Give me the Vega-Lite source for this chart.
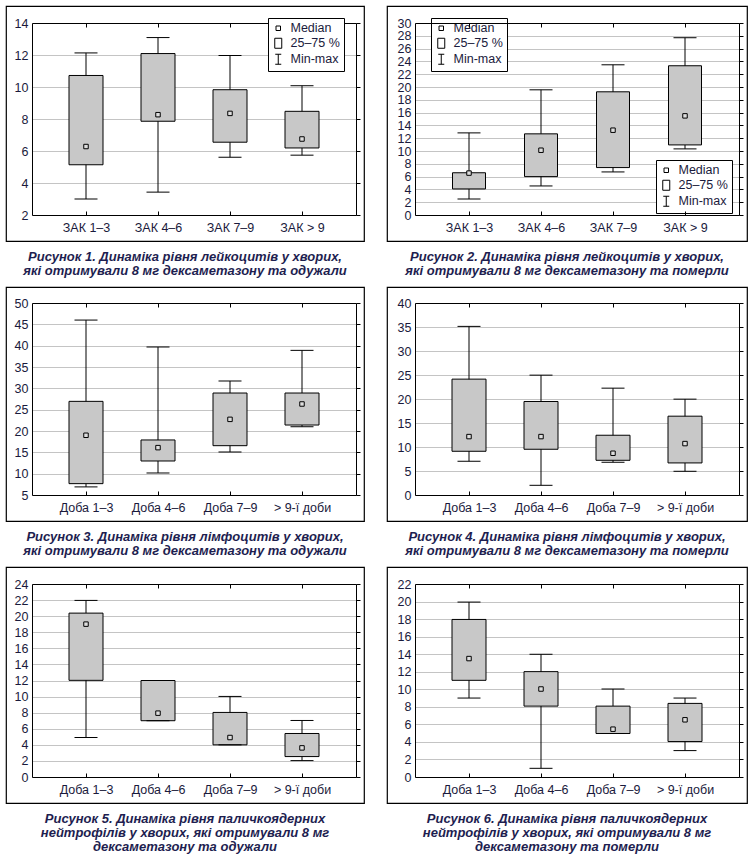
{
"$schema":"https://vega.github.io/schema/vega-lite/v6.json",
"background":"white",
"padding":5,
"spacing":7,
"datasets":{
"p1":[{"cat":"ЗАК 1–3","min":3.0,"q1":5.14,"med":6.28,"q3":10.72,"max":12.13},{"cat":"ЗАК 4–6","min":3.43,"q1":7.86,"med":8.27,"q3":12.09,"max":13.09},{"cat":"ЗАК 7–9","min":5.61,"q1":6.55,"med":8.35,"q3":9.83,"max":11.97},{"cat":"ЗАК > 9","min":5.74,"q1":6.19,"med":6.75,"q3":8.48,"max":10.08}],
"p2":[{"cat":"ЗАК 1–3","min":2.5,"q1":4.07,"med":6.55,"q3":6.6,"max":12.83},{"cat":"ЗАК 4–6","min":4.54,"q1":6.0,"med":10.12,"q3":12.68,"max":19.56},{"cat":"ЗАК 7–9","min":6.73,"q1":7.41,"med":13.25,"q3":19.25,"max":23.47},{"cat":"ЗАК > 9","min":10.33,"q1":10.95,"med":15.49,"q3":23.32,"max":27.7}],
"p3":[{"cat":"Доба 1–3","min":6.9,"q1":7.66,"med":19.0,"q3":26.95,"max":46.0},{"cat":"Доба 4–6","min":10.16,"q1":12.97,"med":16.1,"q3":17.9,"max":39.69},{"cat":"Доба 7–9","min":15.08,"q1":16.56,"med":22.73,"q3":28.9,"max":31.72},{"cat":"> 9-ї доби","min":21.0,"q1":21.4,"med":26.33,"q3":28.9,"max":38.9}],
"p4":[{"cat":"Доба 1–3","min":7.03,"q1":9.11,"med":12.17,"q3":24.14,"max":35.13},{"cat":"Доба 4–6","min":2.02,"q1":9.53,"med":12.17,"q3":19.48,"max":24.97},{"cat":"Доба 7–9","min":6.82,"q1":7.23,"med":8.7,"q3":12.45,"max":22.26},{"cat":"> 9-ї доби","min":4.94,"q1":6.68,"med":10.71,"q3":16.42,"max":19.97}],
"p5":[{"cat":"Доба 1–3","min":4.91,"q1":12.02,"med":19.01,"q3":20.38,"max":21.96},{"cat":"Доба 4–6","min":7.0,"q1":7.0,"med":7.94,"q3":12.0,"max":12.0},{"cat":"Доба 7–9","min":4.0,"q1":4.0,"med":4.91,"q3":8.03,"max":10.02},{"cat":"> 9-ї доби","min":2.04,"q1":2.54,"med":3.62,"q3":5.41,"max":7.03}],
"p6":[{"cat":"Доба 1–3","min":9.0,"q1":11.02,"med":13.5,"q3":17.96,"max":19.94},{"cat":"Доба 4–6","min":0.99,"q1":8.08,"med":10.03,"q3":12.01,"max":13.99},{"cat":"Доба 7–9","min":4.96,"q1":4.96,"med":5.45,"q3":8.08,"max":10.03},{"cat":"> 9-ї доби","min":3.01,"q1":4.04,"med":6.52,"q3":8.39,"max":9.0}],
"leg":[{"item":"Median"},{"item":"25–75 %"},{"item":"Min-max"}]
},
"vconcat":[
{"spacing":21,"hconcat":[
{"width":358,"height":235,"data":{"name":"p1"},
 "title":{"text":["Рисунок 1. Динаміка рівня лейкоцитів у хворих,","які отримували 8 мг дексаметазону та одужали"]},
 "layer":[
  {"mark":{"type":"rule","color":"black","strokeWidth":1},
   "encoding":{"x":{"field":"cat","type":"nominal","scale":{"type":"point","domain":["ЗАК 1–3","ЗАК 4–6","ЗАК 7–9","ЗАК > 9"],"padding":0.75,"range":[26,350]},"axis":{"orient":"bottom","offset":-26,"title":null,"grid":false,"tickSize":-4,"labelPadding":10,"labelAngle":0,"zindex":1}},
    "y":{"field":"min","type":"quantitative","scale":{"domain":[2,14],"nice":false,"zero":false,"range":[209,17]},"axis":{"orient":"left","offset":-26,"title":null,"grid":true,"ticks":false,"labelPadding":4,"values":[2,4,6,8,10,12,14]}},
    "y2":{"field":"max"}}},
  {"mark":{"type":"bar","fill":"#c8c8c8","stroke":"black","strokeWidth":1,"width":34},
   "encoding":{"x":{"field":"cat","type":"nominal","scale":{"type":"point","domain":["ЗАК 1–3","ЗАК 4–6","ЗАК 7–9","ЗАК > 9"],"padding":0.75,"range":[26,350]},"axis":null},
    "y":{"field":"q1","type":"quantitative","scale":{"domain":[2,14],"nice":false,"zero":false,"range":[209,17]},"axis":null},"y2":{"field":"q3"}}},
  {"mark":{"type":"tick","color":"black","size":23,"thickness":1,"opacity":1},
   "encoding":{"x":{"field":"cat","type":"nominal","scale":{"type":"point","domain":["ЗАК 1–3","ЗАК 4–6","ЗАК 7–9","ЗАК > 9"],"padding":0.75,"range":[26,350]},"axis":{"orient":"top","offset":-17,"title":null,"labels":false,"grid":false,"tickSize":-4,"zindex":1}},
    "y":{"field":"min","type":"quantitative","scale":{"domain":[2,14],"nice":false,"zero":false,"range":[209,17]},"axis":{"orient":"right","offset":-8,"title":null,"labels":false,"grid":false,"tickSize":4,"zindex":1,"values":[2,4,6,8,10,12,14]}}}},
  {"mark":{"type":"tick","color":"black","size":23,"thickness":1,"opacity":1},
   "encoding":{"x":{"field":"cat","type":"nominal","axis":null},"y":{"field":"max","type":"quantitative","axis":null}}},
  {"mark":{"type":"point","shape":"square","size":20,"filled":true,"fill":"#dedede","stroke":"black","strokeWidth":1,"opacity":1},
   "encoding":{"x":{"field":"cat","type":"nominal","axis":null},"y":{"field":"med","type":"quantitative","axis":null}}},
  {"data":{"name":"leg"},"mark":{"type":"point","filled":false,"color":"black","opacity":0},
   "encoding":{"shape":{"field":"item","type":"nominal","scale":{"domain":["Median","25–75 %","Min-max"],"range":["M-0.45,-0.45H0.45V0.45H-0.45Z","M-0.7,-1H0.7V1H-0.7Z","M-0.6,-1H0.6M0,-1V1M-0.6,1H0.6"]},"legend":{"legendX":262,"legendY":12}}}}
 ],
 "resolve":{"axis":{"x":"independent","y":"independent"}}},
{"width":360,"height":235,"data":{"name":"p2"},
 "title":{"text":["Рисунок 2.  Динаміка рівня лейкоцитів у хворих,","які отримували 8 мг дексаметазону та померли"]},
 "layer":[
  {"mark":{"type":"rule","color":"black","strokeWidth":1},
   "encoding":{"x":{"field":"cat","type":"nominal","scale":{"type":"point","domain":["ЗАК 1–3","ЗАК 4–6","ЗАК 7–9","ЗАК > 9"],"padding":0.75,"range":[28,352]},"axis":{"orient":"bottom","offset":-26,"title":null,"grid":false,"tickSize":-4,"labelPadding":10,"labelAngle":0,"zindex":1}},
    "y":{"field":"min","type":"quantitative","scale":{"domain":[0,30],"nice":false,"zero":false,"range":[209,17]},"axis":{"orient":"left","offset":-28,"title":null,"grid":true,"ticks":false,"labelPadding":4,"values":[0,2,4,6,8,10,12,14,16,18,20,22,24,26,28,30]}},
    "y2":{"field":"max"}}},
  {"mark":{"type":"bar","fill":"#c8c8c8","stroke":"black","strokeWidth":1,"width":33},
   "encoding":{"x":{"field":"cat","type":"nominal","scale":{"type":"point","domain":["ЗАК 1–3","ЗАК 4–6","ЗАК 7–9","ЗАК > 9"],"padding":0.75,"range":[28,352]},"axis":null},
    "y":{"field":"q1","type":"quantitative","scale":{"domain":[0,30],"nice":false,"zero":false,"range":[209,17]},"axis":null},"y2":{"field":"q3"}}},
  {"mark":{"type":"tick","color":"black","size":23,"thickness":1,"opacity":1},
   "encoding":{"x":{"field":"cat","type":"nominal","scale":{"type":"point","domain":["ЗАК 1–3","ЗАК 4–6","ЗАК 7–9","ЗАК > 9"],"padding":0.75,"range":[28,352]},"axis":{"orient":"top","offset":-17,"title":null,"labels":false,"grid":false,"tickSize":-4,"zindex":1}},
    "y":{"field":"min","type":"quantitative","scale":{"domain":[0,30],"nice":false,"zero":false,"range":[209,17]},"axis":{"orient":"right","offset":-8,"title":null,"labels":false,"grid":false,"tickSize":4,"zindex":1,"values":[0,2,4,6,8,10,12,14,16,18,20,22,24,26,28,30]}}}},
  {"mark":{"type":"tick","color":"black","size":23,"thickness":1,"opacity":1},
   "encoding":{"x":{"field":"cat","type":"nominal","axis":null},"y":{"field":"max","type":"quantitative","axis":null}}},
  {"mark":{"type":"point","shape":"square","size":20,"filled":true,"fill":"#dedede","stroke":"black","strokeWidth":1,"opacity":1},
   "encoding":{"x":{"field":"cat","type":"nominal","axis":null},"y":{"field":"med","type":"quantitative","axis":null}}},
  {"data":{"name":"leg"},"mark":{"type":"point","filled":false,"color":"black","opacity":0},
   "encoding":{"shape":{"field":"item","type":"nominal","scale":{"domain":["Median","25–75 %","Min-max"],"range":["M-0.45,-0.45H0.45V0.45H-0.45Z","M-0.7,-1H0.7V1H-0.7Z","M-0.6,-1H0.6M0,-1V1M-0.6,1H0.6"]},"legend":{"legendX":44,"legendY":12}}}},
  {"data":{"name":"leg"},"mark":{"type":"point","filled":false,"color":"black","opacity":0},
   "encoding":{"shape":{"field":"item","type":"nominal","scale":{"domain":["Median","25–75 %","Min-max"],"range":["M-0.45,-0.45H0.45V0.45H-0.45Z","M-0.7,-1H0.7V1H-0.7Z","M-0.6,-1H0.6M0,-1V1M-0.6,1H0.6"]},"legend":{"legendX":269,"legendY":154}}}}
 ],
 "resolve":{"axis":{"x":"independent","y":"independent"},"scale":{"shape":"independent"},"legend":{"shape":"independent"}}}
]},
{"spacing":21,"hconcat":[
{"width":358,"height":234,"data":{"name":"p3"},
 "title":{"text":["Рисунок 3.  Динаміка рівня лімфоцитів у хворих,","які отримували 8 мг дексаметазону та одужали"]},
 "layer":[
  {"mark":{"type":"rule","color":"black","strokeWidth":1},
   "encoding":{"x":{"field":"cat","type":"nominal","scale":{"type":"point","domain":["Доба 1–3","Доба 4–6","Доба 7–9","> 9-ї доби"],"padding":0.75,"range":[26,350]},"axis":{"orient":"bottom","offset":-26,"title":null,"grid":false,"tickSize":-4,"labelPadding":10,"labelAngle":0,"zindex":1}},
    "y":{"field":"min","type":"quantitative","scale":{"domain":[5,50],"nice":false,"zero":false,"range":[208,16]},"axis":{"orient":"left","offset":-26,"title":null,"grid":true,"ticks":false,"labelPadding":4,"values":[5,10,15,20,25,30,35,40,45,50]}},
    "y2":{"field":"max"}}},
  {"mark":{"type":"bar","fill":"#c8c8c8","stroke":"black","strokeWidth":1,"width":34},
   "encoding":{"x":{"field":"cat","type":"nominal","scale":{"type":"point","domain":["Доба 1–3","Доба 4–6","Доба 7–9","> 9-ї доби"],"padding":0.75,"range":[26,350]},"axis":null},
    "y":{"field":"q1","type":"quantitative","scale":{"domain":[5,50],"nice":false,"zero":false,"range":[208,16]},"axis":null},"y2":{"field":"q3"}}},
  {"mark":{"type":"tick","color":"black","size":23,"thickness":1,"opacity":1},
   "encoding":{"x":{"field":"cat","type":"nominal","scale":{"type":"point","domain":["Доба 1–3","Доба 4–6","Доба 7–9","> 9-ї доби"],"padding":0.75,"range":[26,350]},"axis":{"orient":"top","offset":-16,"title":null,"labels":false,"grid":false,"tickSize":-4,"zindex":1}},
    "y":{"field":"min","type":"quantitative","scale":{"domain":[5,50],"nice":false,"zero":false,"range":[208,16]},"axis":{"orient":"right","offset":-8,"title":null,"labels":false,"grid":false,"tickSize":4,"zindex":1,"values":[5,10,15,20,25,30,35,40,45,50]}}}},
  {"mark":{"type":"tick","color":"black","size":23,"thickness":1,"opacity":1},
   "encoding":{"x":{"field":"cat","type":"nominal","axis":null},"y":{"field":"max","type":"quantitative","axis":null}}},
  {"mark":{"type":"point","shape":"square","size":20,"filled":true,"fill":"#dedede","stroke":"black","strokeWidth":1,"opacity":1},
   "encoding":{"x":{"field":"cat","type":"nominal","axis":null},"y":{"field":"med","type":"quantitative","axis":null}}},
  {"data":{"name":"leg"},"mark":{"type":"point","filled":false,"color":"black","opacity":0},
   "encoding":{"shape":{"field":"item","type":"nominal","scale":{"domain":["Median","25–75 %","Min-max"],"range":["M-0.45,-0.45H0.45V0.45H-0.45Z","M-0.7,-1H0.7V1H-0.7Z","M-0.6,-1H0.6M0,-1V1M-0.6,1H0.6"]},"legend":{"legendX":267,"legendY":151}}}}
 ],
 "resolve":{"axis":{"x":"independent","y":"independent"}}},
{"width":360,"height":234,"data":{"name":"p4"},
 "title":{"text":["Рисунок 4.  Динаміка рівня лімфоцитів у хворих,","які отримували 8 мг дексаметазону та померли"]},
 "layer":[
  {"mark":{"type":"rule","color":"black","strokeWidth":1},
   "encoding":{"x":{"field":"cat","type":"nominal","scale":{"type":"point","domain":["Доба 1–3","Доба 4–6","Доба 7–9","> 9-ї доби"],"padding":0.75,"range":[28,352]},"axis":{"orient":"bottom","offset":-26,"title":null,"grid":false,"tickSize":-4,"labelPadding":10,"labelAngle":0,"zindex":1}},
    "y":{"field":"min","type":"quantitative","scale":{"domain":[0,40],"nice":false,"zero":false,"range":[208,16]},"axis":{"orient":"left","offset":-28,"title":null,"grid":true,"ticks":false,"labelPadding":4,"values":[0,5,10,15,20,25,30,35,40]}},
    "y2":{"field":"max"}}},
  {"mark":{"type":"bar","fill":"#c8c8c8","stroke":"black","strokeWidth":1,"width":34},
   "encoding":{"x":{"field":"cat","type":"nominal","scale":{"type":"point","domain":["Доба 1–3","Доба 4–6","Доба 7–9","> 9-ї доби"],"padding":0.75,"range":[28,352]},"axis":null},
    "y":{"field":"q1","type":"quantitative","scale":{"domain":[0,40],"nice":false,"zero":false,"range":[208,16]},"axis":null},"y2":{"field":"q3"}}},
  {"mark":{"type":"tick","color":"black","size":23,"thickness":1,"opacity":1},
   "encoding":{"x":{"field":"cat","type":"nominal","scale":{"type":"point","domain":["Доба 1–3","Доба 4–6","Доба 7–9","> 9-ї доби"],"padding":0.75,"range":[28,352]},"axis":{"orient":"top","offset":-16,"title":null,"labels":false,"grid":false,"tickSize":-4,"zindex":1}},
    "y":{"field":"min","type":"quantitative","scale":{"domain":[0,40],"nice":false,"zero":false,"range":[208,16]},"axis":{"orient":"right","offset":-8,"title":null,"labels":false,"grid":false,"tickSize":4,"zindex":1,"values":[0,5,10,15,20,25,30,35,40]}}}},
  {"mark":{"type":"tick","color":"black","size":23,"thickness":1,"opacity":1},
   "encoding":{"x":{"field":"cat","type":"nominal","axis":null},"y":{"field":"max","type":"quantitative","axis":null}}},
  {"mark":{"type":"point","shape":"square","size":20,"filled":true,"fill":"#dedede","stroke":"black","strokeWidth":1,"opacity":1},
   "encoding":{"x":{"field":"cat","type":"nominal","axis":null},"y":{"field":"med","type":"quantitative","axis":null}}},
  {"data":{"name":"leg"},"mark":{"type":"point","filled":false,"color":"black","opacity":0},
   "encoding":{"shape":{"field":"item","type":"nominal","scale":{"domain":["Median","25–75 %","Min-max"],"range":["M-0.45,-0.45H0.45V0.45H-0.45Z","M-0.7,-1H0.7V1H-0.7Z","M-0.6,-1H0.6M0,-1V1M-0.6,1H0.6"]},"legend":{"legendX":264,"legendY":11}}}}
 ],
 "resolve":{"axis":{"x":"independent","y":"independent"}}}
]},
{"spacing":21,"hconcat":[
{"width":358,"height":236,"data":{"name":"p5"},
 "title":{"text":["Рисунок 5.  Динаміка рівня паличкоядерних","нейтрофілів у хворих, які отримували 8 мг","дексаметазону та одужали"]},
 "layer":[
  {"mark":{"type":"rule","color":"black","strokeWidth":1},
   "encoding":{"x":{"field":"cat","type":"nominal","scale":{"type":"point","domain":["Доба 1–3","Доба 4–6","Доба 7–9","> 9-ї доби"],"padding":0.75,"range":[26,350]},"axis":{"orient":"bottom","offset":-26,"title":null,"grid":false,"tickSize":-4,"labelPadding":10,"labelAngle":0,"zindex":1}},
    "y":{"field":"min","type":"quantitative","scale":{"domain":[0,24],"nice":false,"zero":false,"range":[210,17]},"axis":{"orient":"left","offset":-26,"title":null,"grid":true,"ticks":false,"labelPadding":4,"values":[0,2,4,6,8,10,12,14,16,18,20,22,24]}},
    "y2":{"field":"max"}}},
  {"mark":{"type":"bar","fill":"#c8c8c8","stroke":"black","strokeWidth":1,"width":34},
   "encoding":{"x":{"field":"cat","type":"nominal","scale":{"type":"point","domain":["Доба 1–3","Доба 4–6","Доба 7–9","> 9-ї доби"],"padding":0.75,"range":[26,350]},"axis":null},
    "y":{"field":"q1","type":"quantitative","scale":{"domain":[0,24],"nice":false,"zero":false,"range":[210,17]},"axis":null},"y2":{"field":"q3"}}},
  {"mark":{"type":"tick","color":"black","size":23,"thickness":1,"opacity":1},
   "encoding":{"x":{"field":"cat","type":"nominal","scale":{"type":"point","domain":["Доба 1–3","Доба 4–6","Доба 7–9","> 9-ї доби"],"padding":0.75,"range":[26,350]},"axis":{"orient":"top","offset":-17,"title":null,"labels":false,"grid":false,"tickSize":-4,"zindex":1}},
    "y":{"field":"min","type":"quantitative","scale":{"domain":[0,24],"nice":false,"zero":false,"range":[210,17]},"axis":{"orient":"right","offset":-8,"title":null,"labels":false,"grid":false,"tickSize":4,"zindex":1,"values":[0,2,4,6,8,10,12,14,16,18,20,22,24]}}}},
  {"mark":{"type":"tick","color":"black","size":23,"thickness":1,"opacity":1},
   "encoding":{"x":{"field":"cat","type":"nominal","axis":null},"y":{"field":"max","type":"quantitative","axis":null}}},
  {"mark":{"type":"point","shape":"square","size":20,"filled":true,"fill":"#dedede","stroke":"black","strokeWidth":1,"opacity":1},
   "encoding":{"x":{"field":"cat","type":"nominal","axis":null},"y":{"field":"med","type":"quantitative","axis":null}}},
  {"data":{"name":"leg"},"mark":{"type":"point","filled":false,"color":"black","opacity":0},
   "encoding":{"shape":{"field":"item","type":"nominal","scale":{"domain":["Median","25–75 %","Min-max"],"range":["M-0.45,-0.45H0.45V0.45H-0.45Z","M-0.7,-1H0.7V1H-0.7Z","M-0.6,-1H0.6M0,-1V1M-0.6,1H0.6"]},"legend":{"legendX":262,"legendY":13}}}}
 ],
 "resolve":{"axis":{"x":"independent","y":"independent"}}},
{"width":360,"height":236,"data":{"name":"p6"},
 "title":{"text":["Рисунок 6.  Динаміка рівня паличкоядерних","нейтрофілів у хворих, які отримували 8 мг","дексаметазону та померли"]},
 "layer":[
  {"mark":{"type":"rule","color":"black","strokeWidth":1},
   "encoding":{"x":{"field":"cat","type":"nominal","scale":{"type":"point","domain":["Доба 1–3","Доба 4–6","Доба 7–9","> 9-ї доби"],"padding":0.75,"range":[28,352]},"axis":{"orient":"bottom","offset":-26,"title":null,"grid":false,"tickSize":-4,"labelPadding":10,"labelAngle":0,"zindex":1}},
    "y":{"field":"min","type":"quantitative","scale":{"domain":[0,22],"nice":false,"zero":false,"range":[210,17]},"axis":{"orient":"left","offset":-28,"title":null,"grid":true,"ticks":false,"labelPadding":4,"values":[0,2,4,6,8,10,12,14,16,18,20,22]}},
    "y2":{"field":"max"}}},
  {"mark":{"type":"bar","fill":"#c8c8c8","stroke":"black","strokeWidth":1,"width":34},
   "encoding":{"x":{"field":"cat","type":"nominal","scale":{"type":"point","domain":["Доба 1–3","Доба 4–6","Доба 7–9","> 9-ї доби"],"padding":0.75,"range":[28,352]},"axis":null},
    "y":{"field":"q1","type":"quantitative","scale":{"domain":[0,22],"nice":false,"zero":false,"range":[210,17]},"axis":null},"y2":{"field":"q3"}}},
  {"mark":{"type":"tick","color":"black","size":23,"thickness":1,"opacity":1},
   "encoding":{"x":{"field":"cat","type":"nominal","scale":{"type":"point","domain":["Доба 1–3","Доба 4–6","Доба 7–9","> 9-ї доби"],"padding":0.75,"range":[28,352]},"axis":{"orient":"top","offset":-17,"title":null,"labels":false,"grid":false,"tickSize":-4,"zindex":1}},
    "y":{"field":"min","type":"quantitative","scale":{"domain":[0,22],"nice":false,"zero":false,"range":[210,17]},"axis":{"orient":"right","offset":-8,"title":null,"labels":false,"grid":false,"tickSize":4,"zindex":1,"values":[0,2,4,6,8,10,12,14,16,18,20,22]}}}},
  {"mark":{"type":"tick","color":"black","size":23,"thickness":1,"opacity":1},
   "encoding":{"x":{"field":"cat","type":"nominal","axis":null},"y":{"field":"max","type":"quantitative","axis":null}}},
  {"mark":{"type":"point","shape":"square","size":20,"filled":true,"fill":"#dedede","stroke":"black","strokeWidth":1,"opacity":1},
   "encoding":{"x":{"field":"cat","type":"nominal","axis":null},"y":{"field":"med","type":"quantitative","axis":null}}},
  {"data":{"name":"leg"},"mark":{"type":"point","filled":false,"color":"black","opacity":0},
   "encoding":{"shape":{"field":"item","type":"nominal","scale":{"domain":["Median","25–75 %","Min-max"],"range":["M-0.45,-0.45H0.45V0.45H-0.45Z","M-0.7,-1H0.7V1H-0.7Z","M-0.6,-1H0.6M0,-1V1M-0.6,1H0.6"]},"legend":{"legendX":264,"legendY":13}}}}
 ],
 "resolve":{"axis":{"x":"independent","y":"independent"}}}
]}
],
"config":{
 "view":{"stroke":"black","strokeWidth":1.2},
 "font":"Liberation Sans",
 "axis":{"labelFont":"Liberation Sans","labelFontSize":12.5,"labelColor":"#1a1a3c","domainColor":"black","domainWidth":1,"tickColor":"black","tickWidth":1,"gridColor":"#c4c4c4","gridWidth":1},
 "legend":{"orient":"none","title":null,"symbolSize":100,"labelFont":"Liberation Sans","labelFontSize":12.5,"labelColor":"#1a1a3c","strokeColor":"black","fillColor":"white","padding":4,"rowPadding":1,"labelOffset":6,"symbolStrokeColor":"black","symbolFillColor":"white","symbolStrokeWidth":1,"symbolOpacity":1},
 "title":{"orient":"bottom","anchor":"middle","font":"Liberation Sans","fontSize":13,"fontStyle":"italic","fontWeight":"bold","color":"#1e1e50","offset":10,"lineHeight":14}
}
}
